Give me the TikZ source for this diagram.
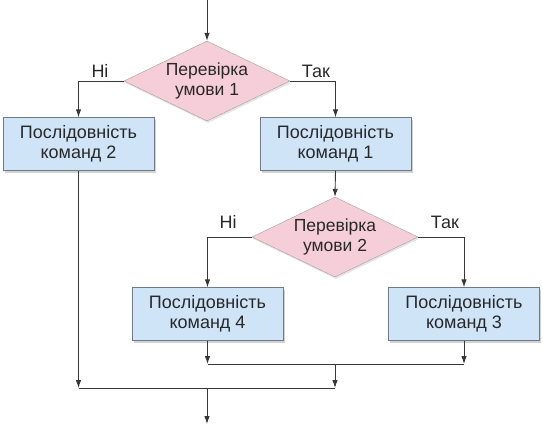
\documentclass[tikz,border=0pt]{standalone}
\usepackage{fontspec}
\setmainfont{Liberation Sans}
\usetikzlibrary{shapes.geometric,arrows.meta,shadows}
\definecolor{boxblue}{RGB}{207,228,247}
\definecolor{condpink}{RGB}{246,206,217}
\definecolor{edgegray}{RGB}{112,122,134}
\definecolor{wiregray}{RGB}{55,55,55}
\definecolor{textgray}{RGB}{40,40,40}
\tikzset{
  every node/.style={font=\fontsize{18}{20.5}\selectfont, text=textgray},
  cmdbox/.style={rectangle, draw=edgegray, fill=boxblue, minimum width=151pt,
    minimum height=53pt, align=center,
    drop shadow={shadow xshift=1.5pt, shadow yshift=-2.5pt, fill=black!35}},
  cond/.style={diamond, draw=gray!75, fill=condpink, aspect=2.07, inner sep=0pt,
    minimum width=166pt, minimum height=80pt, align=center,
    font=\fontsize{17.5}{20}\selectfont,
    drop shadow={shadow xshift=1pt, shadow yshift=-2pt, fill=black!20}},
  wire/.style={draw=wiregray, line width=0.9pt, -{Latex[length=8pt,width=5.5pt]}},
  plain/.style={draw=wiregray, line width=0.9pt}
}
\begin{document}
\begin{tikzpicture}[x=1pt,y=-1pt]
                \useasboundingbox (0,0) rectangle (543,428);
                % Blocks and conditions:
                \coordinate (start) at (207,0);
                \node[cond] (check1) at (207,81) {Перевірка\\умови 1};
                \node[cmdbox] (seq2) at (78.5,144) {Послідовність\\команд 2};
                \node[cmdbox] (seq1) at (335.5,144) {Послідовність\\команд 1};
                \node[cond] (check2) at (335,237) {Перевірка\\умови 2};
                \node[cmdbox] (seq4) at (207.5,314) {Послідовність\\команд 4};
                \node[cmdbox] (seq3) at (464,314) {Послідовність\\команд 3};
                \coordinate (join1) at (335,364);
                \coordinate (join2) at (207,388);
                \coordinate (finish) at (207,424);
                % Branch labels:
                \node (no1) at (100,71) {Ні};
                \node (yes1) at (316,71) {Так};
                \node (no2) at (228,222) {Ні};
                \node (yes2) at (445,222) {Так};
                % Wires:
                \draw[wire] (start) -- (check1.north);
                \draw[wire] (check1.west) -| (seq2.north);
                \draw[wire] (check1.east) -| (seq1.north);
                \draw[wire] (seq1.south) -- (check2.north);
                \draw[wire] (check2.west) -| (seq4.north);
                \draw[wire] (check2.east) -| (seq3.north);
                \draw[wire] (seq4.south) -- (seq4.south |- join1);
                \draw[wire] (seq3.south) -- (seq3.south |- join1);
                \draw[plain] (seq4.south |- join1) -- (seq3.south |- join1);
                \draw[wire] (join1) -- (join1 |- join2);
                \draw[wire] (seq2.south) -- (seq2.south |- join2);
                \draw[plain] (seq2.south |- join2) -- (join1 |- join2);
                \draw[wire] (join2) -- (finish);
            \end{tikzpicture}
\end{document}
